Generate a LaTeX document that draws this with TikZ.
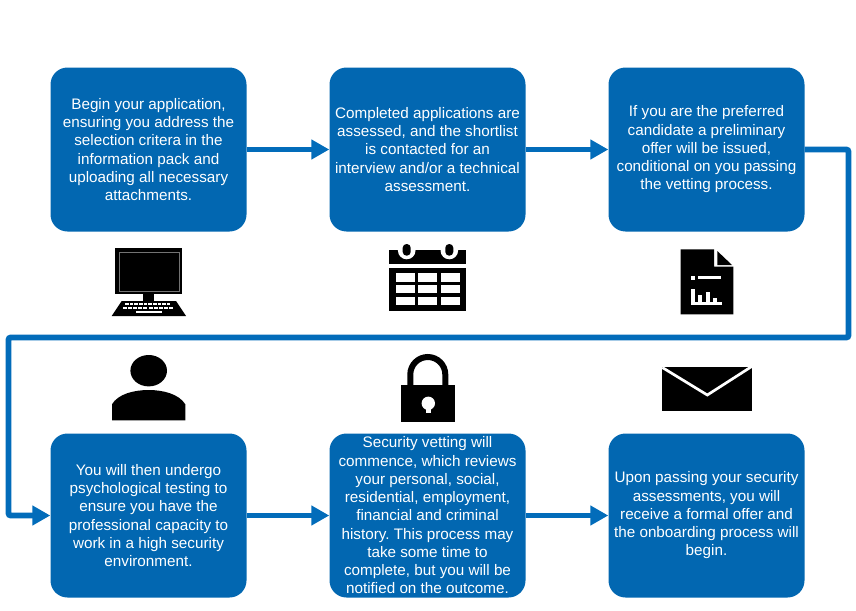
\documentclass[tikz,border=0pt]{standalone}
\usepackage{fontspec}
\setmainfont{Liberation Sans}
\frenchspacing
\usetikzlibrary{arrows.meta,positioning}
\definecolor{boxblue}{RGB}{2,103,177}
\definecolor{lineblue}{RGB}{2,108,186}

\tikzset{
 stepbox/.style={fill=boxblue,text=white,rounded corners=17pt,minimum width=196pt,minimum height=164pt,
  inner sep=0pt,align=center,font=\fontsize{15.25}{18.25}\selectfont},
 flow/.style={color=lineblue,line width=4.6pt,-{Triangle[length=18pt,width=19pt]}},
 icon/.style={fill=black,draw=none},
 cutout/.style={fill=white,draw=none}
}

\begin{document}
\begin{tikzpicture}[x=1pt,y=-1pt,node distance=279pt,on grid]
 \useasboundingbox (0,0) rectangle (856,610);
 \node[stepbox] (apply) at (148.5,149.5) {Begin your application,\\ensuring you address the\\selection critera in the\\information pack and\\uploading all necessary\\attachments.};
 \node[stepbox] (assess)[right=of apply] {Completed applications are\\assessed, and the shortlist\\is contacted for an\\interview and/or a technical\\assessment.};
 \node[stepbox] (offer)[right=of assess] {If you are the preferred\\candidate a preliminary\\offer will be issued,\\conditional on you passing\\the vetting process.};
 \node[stepbox] (psych)[below=366pt of apply] {You will then undergo\\psychological testing to\\ensure you have the\\professional capacity to\\work in a high security\\environment.};
 \node[stepbox] (vetting)[right=of psych] {Security vetting will\\commence, which reviews\\your personal, social,\\residential, employment,\\financial and criminal\\history. This process may\\take some time to\\complete, but you will be\\notified on the outcome.};
 \node[stepbox] (formal)[right=of vetting] {Upon passing your security\\assessments, you will\\receive a formal offer and\\the onboarding process will\\begin.};

 \coordinate (c_1) at (848.5,149.5);
 \coordinate (c_2) at (848.5,337.5);
 \coordinate (c_3) at (8.5,337.5);
 \coordinate (c_4) at (8.5,515.5);

 \path[flow]
 (apply) edge (assess)
 (assess) edge (offer)
 (psych) edge (vetting)
 (vetting) edge (formal);
 \draw[flow,line width=5.6pt,rounded corners=2pt] (offer) -- (c_1) -- (c_2) -- (c_3) -- (c_4) -- (psych);

 % computer
 \fill[icon] (115.3,248.3) rectangle (182,294.3);
 \draw[black!55,line width=.35pt] (119,252.3) rectangle (179,290.7);
 \fill[icon] (142.7,294) rectangle (154.3,301.5);
 \fill[icon] (121.7,301) -- (176,301) -- (186,316) -- (111.7,316) -- cycle;
 \foreach \k in {0,...,9} {
  \fill[cutout] (125+\k*4.65,303.3) rectangle +(3.6,2.1);
  \fill[cutout] (123+\k*5.1,306.7) rectangle +(4,2.2);
 }
 \fill[cutout] (136,311) rectangle (161.7,313);

 % calendar
 \fill[icon] (389.3,250) rectangle (466,264.3);
 \foreach \k in {406.7,449.3} {
  \fill[cutout] (\k,250.5) circle (8.8pt);
  \fill[icon,rounded corners=3.8pt] (\k-4,244) rectangle (\k+4,255.7);
 }
 \fill[icon] (389.3,267.7) rectangle (466,310.7);
 \foreach \k in {396,418.3,441} \foreach \l in {273.3,285,297} {
  \fill[cutout] (\k,\l) rectangle +(18.5,8.3);
 }

 % report
 \fill[icon] (680.7,249.3) -- (714,249.3) -- (714,266.7) -- (733.3,266.7) -- (733.3,314.3) -- (680.7,314.3) -- cycle;
 \fill[icon] (717.3,251) -- (732,265) -- (717.3,265) -- cycle;
 \fill[cutout] (690.5,276) rectangle (694.8,280);
 \fill[cutout] (698.3,276.3) rectangle (721,279.2);
 \fill[cutout] (690.5,302.3) rectangle (721.7,305.4);
 \foreach \k/\l in {690.5/289.3,698.3/295,706/291.7,713.3/297.7} {
  \fill[cutout] (\k,\l) rectangle (\k+4,303);
 }

 % person
 \fill[icon] (148.7,370.7) ellipse (18.3pt and 15.7pt);
 \fill[icon] (112,420.3) -- (112,404.3) .. controls (118,394) and (134,390) .. (148.7,390) .. controls (163,390) and (179,394) .. (185.3,404.3) -- (185.3,420.3) -- cycle;

 % lock
 \draw[line width=6pt] (410.3,386) -- (410.3,374.5) arc[start angle=180,end angle=0,radius=17.5pt] -- (445.3,386);
 \fill[icon] (401,385) rectangle (454.7,421.7);
 \fill[cutout] (428.3,403.3) circle (6.7pt);
 \fill[cutout] (425.7,405) rectangle (431,413.3);

 % envelope
 \fill[icon] (662.3,366.7) rectangle (751.7,411);
 \draw[white,line width=2.7pt] (662.3,367.5) -- (707.3,395) -- (751.7,366.5);
\end{tikzpicture}
\end{document}
